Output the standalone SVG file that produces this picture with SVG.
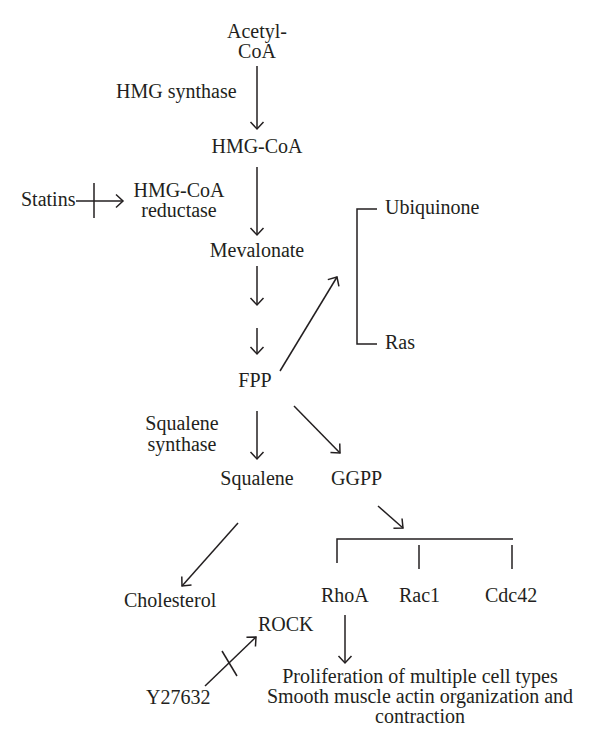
<svg xmlns="http://www.w3.org/2000/svg" width="600" height="752" viewBox="0 0 600 752">
<style>
text{font-family:"Liberation Serif","Times New Roman",serif;font-size:20px;fill:#231f20}
.m{text-anchor:middle}
.c line,.c path{stroke:#231f20;stroke-width:1.5;fill:none}
.a{marker-end:url(#ah)}
</style>
<defs>
<marker id="ah" markerUnits="userSpaceOnUse" viewBox="-10 -10 20 20" refX="0" refY="0" markerWidth="20" markerHeight="20" orient="auto">
<path d="M-7,-6.5 L0,0 L-7,6.5" fill="none" stroke="#231f20" stroke-width="1.5"/>
</marker>
</defs>
<rect width="600" height="752" fill="#fff"/>
<g id="acetylcoa"><text class="m" x="257" y="38">Acetyl-</text><text class="m" x="257" y="58">CoA</text></g>
<g id="hmgsynthase"><text x="116" y="98">HMG synthase</text></g>
<g id="hmgcoa"><text class="m" x="257" y="153">HMG-CoA</text></g>
<g id="reductase"><text class="m" x="179" y="197">HMG-CoA</text><text class="m" x="179" y="217">reductase</text></g>
<g id="statins"><text x="21" y="206">Statins</text></g>
<g id="mevalonate"><text class="m" x="257" y="257">Mevalonate</text></g>
<g id="fpp"><text class="m" x="255" y="387">FPP</text></g>
<g id="ubiquinone"><text x="385" y="214">Ubiquinone</text></g>
<g id="ras"><text x="385" y="349">Ras</text></g>
<g id="sqsynthase"><text class="m" x="182" y="430">Squalene</text><text class="m" x="182" y="451">synthase</text></g>
<g id="squalene"><text class="m" x="257" y="485">Squalene</text></g>
<g id="ggpp"><text x="331" y="485">GGPP</text></g>
<g id="cholesterol"><text x="124" y="607">Cholesterol</text></g>
<g id="rhoa"><text x="321" y="602">RhoA</text></g>
<g id="rac1"><text x="399" y="602">Rac1</text></g>
<g id="cdc42"><text x="485" y="602">Cdc42</text></g>
<g id="rock"><text x="258" y="631">ROCK</text></g>
<g id="y27632"><text x="146" y="704">Y27632</text></g>
<g id="effects"><text class="m" x="420" y="683">Proliferation of multiple cell types</text><text class="m" x="420" y="703">Smooth muscle actin organization and</text><text class="m" x="420" y="723">contraction</text></g>
<g id="connectors" class="c">
<line class="a" x1="257" y1="66" x2="257" y2="129"/>
<line class="a" x1="257" y1="167" x2="257" y2="235"/>
<line class="a" x1="257" y1="266" x2="257" y2="305"/>
<line class="a" x1="257" y1="328" x2="257" y2="354"/>
<line class="a" x1="280" y1="371" x2="337" y2="277"/>
<path d="M377,209 H357 V344 H377"/>
<line class="a" x1="76" y1="201" x2="123" y2="201"/>
<line x1="94" y1="183" x2="94" y2="218"/>
<line class="a" x1="257" y1="411" x2="257" y2="459"/>
<line class="a" x1="294" y1="406" x2="340" y2="453"/>
<line class="a" x1="238" y1="523" x2="182" y2="586"/>
<line class="a" x1="378" y1="506" x2="403" y2="528"/>
<path d="M337,563 V539 H513"/>
<line x1="419" y1="545" x2="419" y2="569"/>
<line x1="512" y1="545" x2="512" y2="569"/>
<line class="a" x1="345" y1="615" x2="345" y2="663"/>
<line class="a" x1="205" y1="686" x2="256" y2="637"/>
<line x1="222" y1="651" x2="237" y2="676"/>
</g>
</svg>
